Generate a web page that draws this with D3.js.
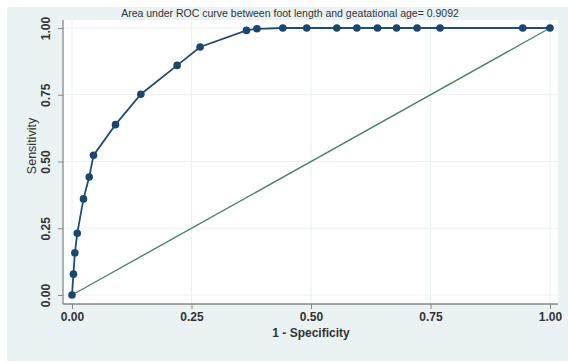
<!DOCTYPE html>
<html>
<head>
<meta charset="utf-8">
<script src="https://cdn.jsdelivr.net/npm/d3@7"></script>
<style>
  body { margin: 0; background: #fff; }
  text { font-family: "Liberation Sans", Arial, sans-serif; fill: #333; }
</style>
</head>
<body>
<div id="chart"></div>
<script>
// ROC points: 1 - specificity, sensitivity
const fpr  = [0, 0.003, 0.006, 0.011, 0.024, 0.036, 0.045, 0.091, 0.144, 0.220, 0.268,
              0.365, 0.387, 0.441, 0.491, 0.554, 0.596, 0.639, 0.679, 0.722, 0.770, 0.943, 1.0];
const sens = [0, 0.078, 0.158, 0.231, 0.360, 0.442, 0.523, 0.638, 0.752, 0.860, 0.929,
              0.991, 0.997, 1.0, 1.0, 1.0, 1.0, 1.0, 1.0, 1.0, 1.0, 1.0, 1.0];
const ticks = [0, 0.25, 0.5, 0.75, 1];
const title = "Area under ROC curve between foot length and geatational age= 0.9092";

const W = 568, H = 363;
const svg = d3.select("#chart").append("svg")
  .attr("width", W).attr("height", H);

// outer graph region
svg.append("rect").attr("x", 7).attr("y", 7).attr("width", W - 7).attr("height", 354)
  .attr("fill", "#eaf2f3");

// plot region
const plot = { left: 63, top: 20, right: 558, bottom: 304 };
svg.append("rect")
  .attr("x", plot.left).attr("y", plot.top)
  .attr("width", plot.right - plot.left).attr("height", plot.bottom - plot.top)
  .attr("fill", "#fff");

const x = d3.scaleLinear().domain([0, 1]).range([72, 550]);
const y = d3.scaleLinear().domain([0, 1]).range([295, 28]);

// grid
svg.append("g").selectAll("line").data(ticks).enter().append("line")
  .attr("x1", d => x(d)).attr("x2", d => x(d))
  .attr("y1", plot.top).attr("y2", plot.bottom)
  .attr("stroke", "#eaf2f3").attr("stroke-width", 1.2);
svg.append("g").selectAll("line").data(ticks).enter().append("line")
  .attr("y1", d => y(d)).attr("y2", d => y(d))
  .attr("x1", plot.left).attr("x2", plot.right)
  .attr("stroke", "#eaf2f3").attr("stroke-width", 1.2);

// axes
const xAxis = svg.append("g")
  .attr("transform", "translate(0," + plot.bottom + ")")
  .call(d3.axisBottom(x).tickValues(ticks).tickFormat(d3.format(".2f")).tickSize(5).tickSizeOuter(0));
const yAxis = svg.append("g")
  .attr("transform", "translate(" + plot.left + ",0)")
  .call(d3.axisLeft(y).tickValues(ticks).tickFormat(d3.format(".2f")).tickSize(5).tickSizeOuter(0));

[xAxis, yAxis].forEach(a => {
  a.select(".domain").attr("stroke", "#888").attr("stroke-width", 1.3);
  a.selectAll(".tick line").attr("stroke", "#888");
  a.selectAll("text").attr("font-size", 12).attr("fill", "#333")
    .style("font-family", "'Liberation Sans', Arial, sans-serif").style("font-weight", "bold");
});
// x axis line runs along the plot bottom
xAxis.select(".domain").attr("d", "M" + plot.left + ",0H" + plot.right);
yAxis.select(".domain").attr("d", "M0," + plot.top + "V" + plot.bottom);
xAxis.selectAll(".tick text").attr("y", 8).attr("dy", "0.71em");

// rotated y tick labels
yAxis.selectAll(".tick text")
  .attr("x", 0).attr("dy", 0)
  .attr("transform", "translate(-13,0) rotate(-90)")
  .attr("text-anchor", "middle");

// diagonal reference line
svg.append("line")
  .attr("x1", x(0)).attr("y1", y(0)).attr("x2", x(1)).attr("y2", y(1))
  .attr("stroke", "#46876a").attr("stroke-width", 1.4);

// ROC curve
const pts = fpr.map((d, i) => ({ x: d, y: sens[i] }));
const line = d3.line().x(d => x(d.x)).y(d => y(d.y));
svg.append("path").datum(pts)
  .attr("d", line).attr("fill", "none")
  .attr("stroke", "#1f4e75").attr("stroke-width", 1.8);
svg.selectAll(".dot").data(pts).enter().append("circle")
  .attr("class", "dot")
  .attr("cx", d => x(d.x)).attr("cy", d => y(d.y)).attr("r", 3.8)
  .attr("fill", "#1a476f");

// titles
svg.append("text").attr("x", 290).attr("y", 17).attr("text-anchor", "middle")
  .attr("font-size", 10.5).text(title);
svg.append("text").attr("x", 311).attr("y", 337).attr("text-anchor", "middle")
  .attr("font-size", 12).style("font-weight", "bold").text("1 - Specificity");
svg.append("text").attr("transform", "translate(36,146) rotate(-90)")
  .attr("text-anchor", "middle").attr("font-size", 12.5).text("Sensitivity");
</script>
</body>
</html>
